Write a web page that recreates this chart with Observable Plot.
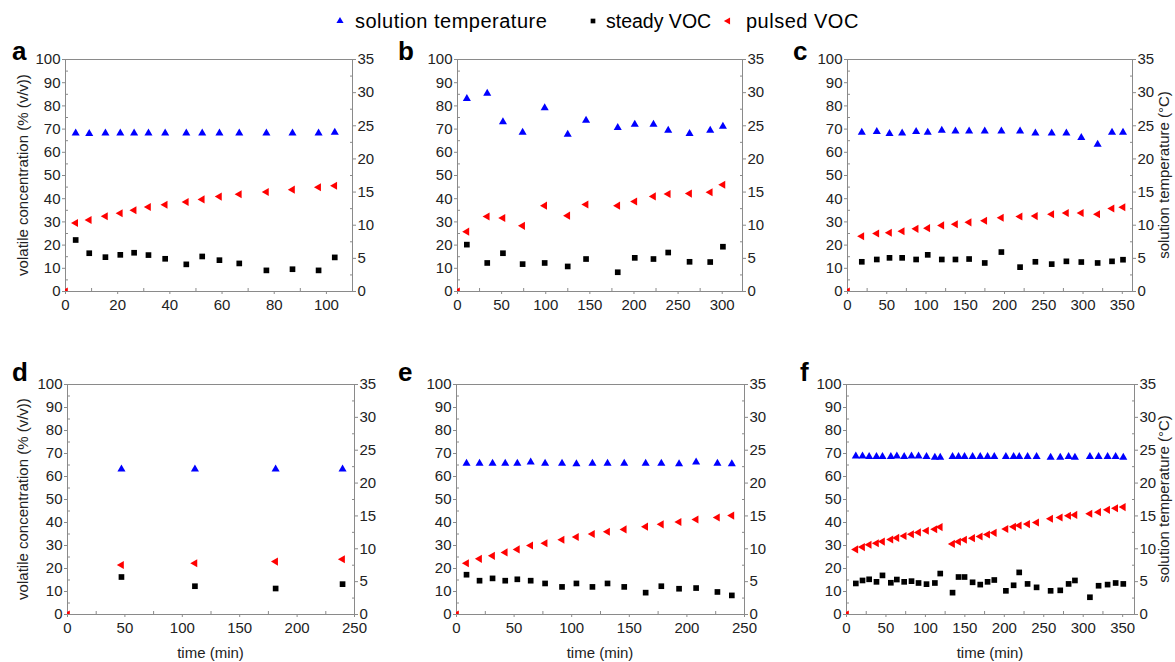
<!DOCTYPE html>
<html><head><meta charset="utf-8">
<script src="https://cdn.jsdelivr.net/npm/d3@7"></script>
<script src="https://cdn.jsdelivr.net/npm/@observablehq/plot@0.6"></script>
<style>
body{margin:0;background:#fff;font-family:"Liberation Sans",Arial,sans-serif;}
#root{position:relative;width:1175px;height:662px;overflow:hidden;background:#fff;}
.pan{position:absolute;}
.letter{position:absolute;font-weight:bold;font-size:26px;line-height:26px;color:#000;}
.rot{position:absolute;font-size:15px;line-height:15px;color:#222;white-space:nowrap;transform:translate(-50%,-50%) rotate(-90deg);}
.xl{position:absolute;font-size:15px;line-height:15px;color:#222;white-space:nowrap;transform:translate(-50%,-50%);}
.leg{position:absolute;font-size:20px;line-height:20px;color:#000;white-space:nowrap;}
.legm{position:absolute;}
</style></head>
<body><div id="root"></div>
<script>
// ---------- data ----------
const seriesNames = ["solution temperature", "steady VOC", "pulsed VOC"];
const panelLetters = ["a", "b", "c", "d", "e", "f"];
const originTime = 0, originValue = 0;

const aTime   = [3.9, 9.1, 15.3, 21, 26.3, 31.8, 38.2, 46.3, 52.4, 59, 66.6, 77, 87, 97, 103.2];
const aTemp   = [23.9, 23.8, 23.9, 23.9, 23.9, 23.9, 23.9, 23.9, 23.9, 23.9, 23.9, 23.9, 23.9, 23.9, 24.0];
const aSteady = [22.2, 16.5, 14.8, 15.8, 16.7, 15.7, 14.1, 11.7, 15.1, 13.5, 12.1, 9.1, 9.6, 9.1, 14.7];
const aPulsed = [29.5, 30.8, 32.4, 33.7, 35.0, 36.4, 37.4, 38.6, 39.7, 40.9, 41.9, 42.9, 43.9, 44.9, 45.6];

const bTime   = [10.6, 33.7, 51.5, 73.8, 98.8, 124.9, 145.7, 181.6, 200.9, 222.1, 238.8, 263, 286.4, 300.8];
const bTemp   = [29.1, 29.9, 25.6, 24.0, 27.7, 23.7, 25.8, 24.7, 25.2, 25.2, 24.3, 23.8, 24.3, 24.9];
const bSteady = [20.2, 12.3, 16.5, 11.8, 12.3, 10.8, 14, 8.3, 14.5, 14, 16.8, 12.8, 12.7, 19.3];
const bPulsed = [25.8, 32.3, 31.7, 28.3, 37, 32.7, 37.5, 37, 38.8, 41, 42, 42.2, 42.8, 46];

const cTime   = [18.2, 37.3, 53.5, 69.6, 87.4, 102.2, 120.1, 137.5, 154.9, 174.8, 196.0, 219.8, 239.3, 260.1, 278.8, 297.8, 318.6, 336.9, 350.9];
const cTemp   = [24.0, 24.1, 23.8, 23.9, 24.1, 24.0, 24.3, 24.2, 24.2, 24.2, 24.2, 24.2, 23.9, 23.9, 23.9, 23.2, 22.2, 24.0, 24.0];
const cSteady = [12.8, 13.8, 14.5, 14.5, 13.8, 15.8, 13.8, 13.8, 14, 12.3, 17, 10.5, 12.8, 11.8, 13, 12.7, 12.3, 13, 13.7];
const cPulsed = [23.8, 25, 25.3, 26, 27, 27.3, 28.5, 29, 29.8, 30.5, 31.8, 32.3, 32.5, 33.3, 33.8, 33.8, 33.3, 35.8, 36.3];

const dTime   = [47, 111, 181.3, 239.6];
const dTemp   = [22.1, 22.1, 22.1, 22.1];
const dSteady = [16.3, 12.3, 11.3, 13.2];
const dPulsed = [21.5, 22.3, 23, 24];

const eTime   = [8.7, 20, 31.3, 42.3, 52.8, 64.4, 76.9, 91.6, 104.1, 118, 131.1, 145.6, 164.2, 177.8, 193.2, 208, 226.5, 239];
const eTemp   = [23.0, 23.0, 23.0, 23.0, 23.0, 23.2, 23.0, 23.0, 22.9, 23.0, 23.0, 23.0, 23.0, 23.0, 22.9, 23.2, 23.0, 22.9];
const eSteady = [17.3, 14.7, 15.7, 14.7, 15.3, 14.7, 13.5, 12, 13.5, 12, 13.5, 12, 9.5, 12.3, 11.2, 11.5, 9.8, 8.3];
const ePulsed = [22.3, 24.2, 25.5, 27, 28.3, 30, 31, 32.5, 33.7, 35, 36, 37, 38.2, 39.2, 40.2, 41.3, 42.2, 43];

const fTime   = [11.8, 20.3, 28.7, 38.0, 45.6, 56.2, 63.8, 73.1, 82.4, 91.3, 101.4, 112, 118.8,
                 134.4, 142, 149.6, 159.8, 169.5, 178.8, 187.3, 202, 211.8, 218.9, 229.5, 240.9,
                 258.7, 270.9, 281.5, 289.5, 308.5, 319.5, 330.9, 341.1, 350.8];
const fTemp   = [24.1, 24.1, 24.0, 24.0, 24.0, 24.0, 24.1, 24.0, 24.1, 24.1, 24.0, 23.9, 23.9,
                 24.0, 24.0, 24.0, 24.0, 24.0, 24.0, 24.0, 24.0, 24.0, 24.0, 24.0, 24.0,
                 23.9, 23.9, 24.0, 23.9, 24.0, 24.0, 24.0, 24.0, 23.9];
const fSteady = [13.5, 14.8, 15.3, 14.2, 17, 13.8, 15.2, 14.2, 14.5, 13.7, 13.2, 13.7, 17.8,
                 9.5, 16.3, 16.3, 14, 13, 14.2, 15, 10.3, 12.7, 18.3, 13.3, 11.8,
                 10.3, 10.5, 13.3, 14.8, 7.5, 12.5, 13, 13.7, 13.3];
const fPulsed = [28.3, 29.3, 30.3, 31.0, 31.7, 32.6, 33.3, 34.1, 34.9, 35.7, 36.4, 37.1, 38.0,
                 30.7, 31.6, 32.5, 33.2, 33.9, 34.8, 35.5, 37.2, 38.1, 38.7, 39.3, 40.0,
                 41.6, 42.2, 42.9, 43.3, 43.8, 44.5, 45.5, 46.2, 46.7];

const concTicks = [0, 10, 20, 30, 40, 50, 60, 70, 80, 90, 100];
const tempTicks = [0, 5, 10, 15, 20, 25, 30, 35];
const timeTicksA = [0, 20, 40, 60, 80, 100];
const timeTicksB = [0, 50, 100, 150, 200, 250, 300];
const timeTicksC = [0, 50, 100, 150, 200, 250, 300, 350];
const timeTicksD = [0, 50, 100, 150, 200, 250];

const yLabel = "volatile concentration (% (v/v))";
const rLabel = "solution temperature (°C)";
const xLabel = "time (min)";

// ---------- layout ----------
const panels = [
  {k:"a", x0:65,  x1:352,  y0:59,  y1:291, xmax:110, minor:10, ticks:timeTicksA, t:aTime, temp:aTemp, steady:aSteady, pulsed:aPulsed},
  {k:"b", x0:457, x1:742,  y0:59,  y1:291, xmax:323, minor:25, ticks:timeTicksB, t:bTime, temp:bTemp, steady:bSteady, pulsed:bPulsed},
  {k:"c", x0:847, x1:1132, y0:59,  y1:291, xmax:363, minor:25, ticks:timeTicksC, t:cTime, temp:cTemp, steady:cSteady, pulsed:cPulsed},
  {k:"d", x0:67,  x1:354,  y0:384, y1:614, xmax:250, minor:25, ticks:timeTicksD, t:dTime, temp:dTemp, steady:dSteady, pulsed:dPulsed},
  {k:"e", x0:456, x1:744,  y0:384, y1:614, xmax:250, minor:25, ticks:timeTicksD, t:eTime, temp:eTemp, steady:eSteady, pulsed:ePulsed},
  {k:"f", x0:846, x1:1134, y0:384, y1:614, xmax:365, minor:25, ticks:timeTicksC, t:fTime, temp:fTemp, steady:fSteady, pulsed:fPulsed}
];

const leftTriangle = {
  draw(ctx, size) {
    const y = Math.sqrt(size / (Math.sqrt(3) * 3));
    ctx.moveTo(-2 * y, 0);
    ctx.lineTo(y, -Math.sqrt(3) * y);
    ctx.lineTo(y, Math.sqrt(3) * y);
    ctx.closePath();
  }
};

const toLeft = v => v * 100 / 35;
const axisGray = "#8a8a8a", textCol = "#222";
const root = document.getElementById("root");

function panel(p) {
  const mL = 40, mR = 36, mT = 10, mB = 30;
  const W = p.x1 - p.x0, H = p.y1 - p.y0;
  const temp = p.t.map((t, i) => ({t, v: toLeft(p.temp[i])}));
  const steady = p.t.map((t, i) => ({t, v: p.steady[i]}));
  const pulsed = p.t.map((t, i) => ({t, v: p.pulsed[i]}));
  const yMinor = d3.range(5, 100, 10);
  const rMajor = tempTicks.map(toLeft);
  const rMinor = d3.range(2.5, 35, 5).map(toLeft);
  const xMinor = d3.range(p.minor, p.xmax, p.minor).filter(v => !p.ticks.includes(v));
  const svg = Plot.plot({
    width: W + mL + mR, height: H + mT + mB,
    marginLeft: mL, marginRight: mR, marginTop: mT, marginBottom: mB,
    x: {domain: [0, p.xmax]},
    y: {domain: [0, 100]},
    style: {fontFamily: '"Liberation Sans", Arial, sans-serif', fontSize: "15px", color: textCol, background: "transparent", overflow: "visible"},
    marks: [
      Plot.axisY(concTicks, {anchor: "left", tickSize: 3, tickPadding: 2, stroke: axisGray, fill: textCol, fontSize: 15, label: null}),
      Plot.axisY(yMinor, {anchor: "left", tickSize: 3, dx: 3, stroke: axisGray, tickFormat: () => "", label: null}),
      Plot.axisY(rMajor, {anchor: "right", tickSize: 3, tickPadding: 2, stroke: axisGray, fill: textCol, fontSize: 15, tickFormat: d => String(Math.round(d * 35 / 100)), label: null}),
      Plot.axisY(rMinor, {anchor: "right", tickSize: 3, dx: -3, stroke: axisGray, tickFormat: () => "", label: null}),
      Plot.axisX(p.ticks, {anchor: "bottom", tickSize: 3, tickPadding: 5, stroke: axisGray, fill: textCol, fontSize: 15, label: null}),
      Plot.axisX(xMinor, {anchor: "bottom", tickSize: 3, dy: -3, stroke: axisGray, tickFormat: () => "", label: null}),
      Plot.frame({stroke: axisGray}),
      Plot.dot([{t: originTime, v: originValue}], {x: "t", y: "v", symbol: leftTriangle, r: 3, fill: "#ff0000", clip: true}),
      Plot.dot(steady, {x: "t", y: "v", symbol: "square", r: 3.2, fill: "#000000"}),
      Plot.dot(pulsed, {x: "t", y: "v", symbol: leftTriangle, r: 3, fill: "#ff0000"}),
      Plot.dot(temp, {x: "t", y: "v", symbol: "triangle", r: 3, fill: "#0000ff"})
    ]
  });
  const div = document.createElement("div");
  div.className = "pan";
  div.style.left = (p.x0 - mL) + "px";
  div.style.top = (p.y0 - mT) + "px";
  div.appendChild(svg);
  root.appendChild(div);

  const L = document.createElement("div");
  L.className = "letter";
  L.textContent = p.k;
  const lx = {a: 12, b: 398, c: 793, d: 12, e: 398, f: 800}[p.k];
  L.style.left = lx + "px";
  L.style.top = (p.y0 < 200 ? 38 : 359) + "px";
  root.appendChild(L);

  const cy = (p.y0 + p.y1) / 2;
  if (p.k === "a" || p.k === "d") {
    const t = document.createElement("div");
    t.className = "rot"; t.textContent = yLabel;
    t.style.left = "22px"; t.style.top = cy + "px";
    root.appendChild(t);
  }
  if (p.k === "c" || p.k === "f") {
    const t = document.createElement("div");
    t.className = "rot"; t.textContent = rLabel;
    t.style.left = "1163px"; t.style.top = cy + "px";
    root.appendChild(t);
  }
  if (p.y0 > 200) {
    const t = document.createElement("div");
    t.className = "xl"; t.textContent = xLabel;
    t.style.left = ((p.x0 + p.x1) / 2) + "px"; t.style.top = "652px";
    root.appendChild(t);
  }
}
panels.forEach(panel);

// ---------- legend ----------
const legendItems = [
  {mx: 340, tx: 355, color: "#0000ff", symbol: "triangle", fs: 20, ls: 0.5},
  {mx: 593, tx: 606, color: "#000000", symbol: "square", fs: 19.5, ls: 0},
  {mx: 728, tx: 746, color: "#ff0000", symbol: "left", fs: 20, ls: 0.5}
];
legendItems.forEach((it, i) => {
  const ns = "http://www.w3.org/2000/svg";
  const s = document.createElementNS(ns, "svg");
  s.setAttribute("width", 12); s.setAttribute("height", 12);
  s.setAttribute("class", "legm");
  s.style.left = (it.mx - 6) + "px"; s.style.top = (21 - 6) + "px";
  const path = document.createElementNS(ns, "path");
  const sym = it.symbol === "triangle" ? d3.symbolTriangle : it.symbol === "square" ? d3.symbolSquare : leftTriangle;
  path.setAttribute("d", d3.symbol(sym, 22)());
  path.setAttribute("transform", "translate(6,6)");
  path.setAttribute("fill", it.color);
  s.appendChild(path);
  root.appendChild(s);
  const t = document.createElement("div");
  t.className = "leg";
  t.textContent = seriesNames[i];
  t.style.fontSize = it.fs + "px";
  t.style.letterSpacing = it.ls + "px";
  t.style.left = it.tx + "px";
  t.style.top = (21 - 10) + "px";
  root.appendChild(t);
});
</script>
</body></html>
